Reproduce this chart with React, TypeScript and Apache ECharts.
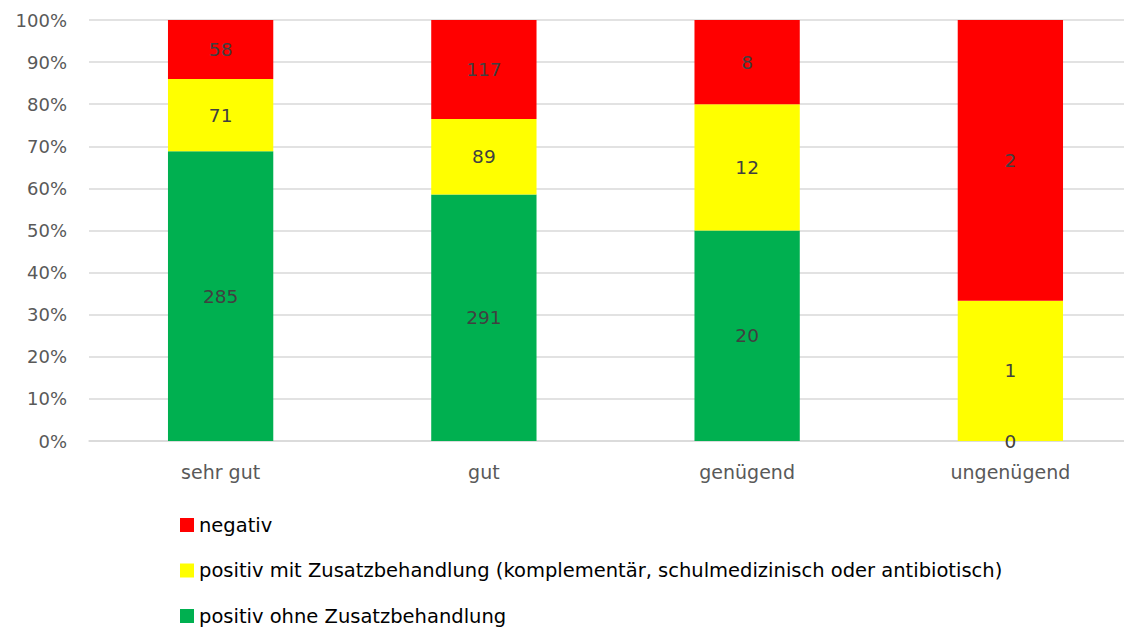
import React, { useEffect, useRef } from "react";
import * as echarts from "echarts";

const categories = ["sehr gut", "gut", "genügend", "ungenügend"];
const negativ = [58, 117, 8, 2];
const positivMit = [71, 89, 12, 1];
const positivOhne = [285, 291, 20, 0];
const yTicks = [0, 10, 20, 30, 40, 50, 60, 70, 80, 90, 100];

const nameNeg = "negativ";
const nameMit = "positiv mit Zusatzbehandlung (komplementär, schulmedizinisch oder antibiotisch)";
const nameOhne = "positiv ohne Zusatzbehandlung";

export default function App() {
  const ref = useRef<HTMLDivElement>(null);
  useEffect(() => {
    document.body.style.margin = "0";
    const chart = echarts.init(ref.current!, undefined, { renderer: "svg" });
    const totals = categories.map((_, i) => negativ[i] + positivMit[i] + positivOhne[i]);
    const font = "'DejaVu Sans', sans-serif";
    const mk = (name: string, arr: number[], color: string) => ({
      name,
      type: "bar",
      stack: "s",
      barWidth: "40%",
      itemStyle: { color },
      data: arr.map((v, i) => (v / totals[i]) * 100),
      label: {
        show: true,
        position: "inside",
        color: "#404040",
        fontSize: 18.5,
        fontFamily: font,
        formatter: (p: any) => String(arr[p.dataIndex]),
      },
    });
    chart.setOption({
      animation: false,
      textStyle: { fontFamily: font },
      grid: { left: 89, right: 0, top: 20, bottom: 186, containLabel: false },
      xAxis: {
        type: "category",
        data: categories,
        axisLine: { show: true, lineStyle: { color: "#d9d9d9", width: 1.5 } },
        axisTick: { show: false },
        axisLabel: { color: "#595959", fontSize: 19, fontFamily: font, margin: 21 },
      },
      yAxis: {
        type: "value",
        min: 0,
        max: 100,
        interval: 10,
        axisLabel: {
          color: "#595959",
          fontSize: 18,
          fontFamily: font,
          margin: 22,
          formatter: (v: number) => (yTicks.includes(v) ? v + "%" : ""),
        },
        splitLine: { lineStyle: { color: "#d9d9d9", width: 1.5 } },
        axisLine: { show: false },
        axisTick: { show: false },
      },
      legend: {
        orient: "vertical",
        left: 180,
        top: 515,
        height: 200,
        padding: 0,
        itemGap: 25.5,
        itemWidth: 14,
        itemHeight: 14,
        icon: "rect",
        data: [nameNeg, nameMit, nameOhne],
        textStyle: { color: "#000", fontSize: 19.5, lineHeight: 20, fontFamily: font },
      },
      series: [
        mk(nameOhne, positivOhne, "#00b050"),
        mk(nameMit, positivMit, "#ffff00"),
        mk(nameNeg, negativ, "#ff0000"),
      ],
    });
    return () => chart.dispose();
  }, []);
  return (
    <div style={{ width: 1124, height: 627, overflow: "hidden" }}>
      <div ref={ref} style={{ width: 1142, height: 627 }} />
    </div>
  );
}
